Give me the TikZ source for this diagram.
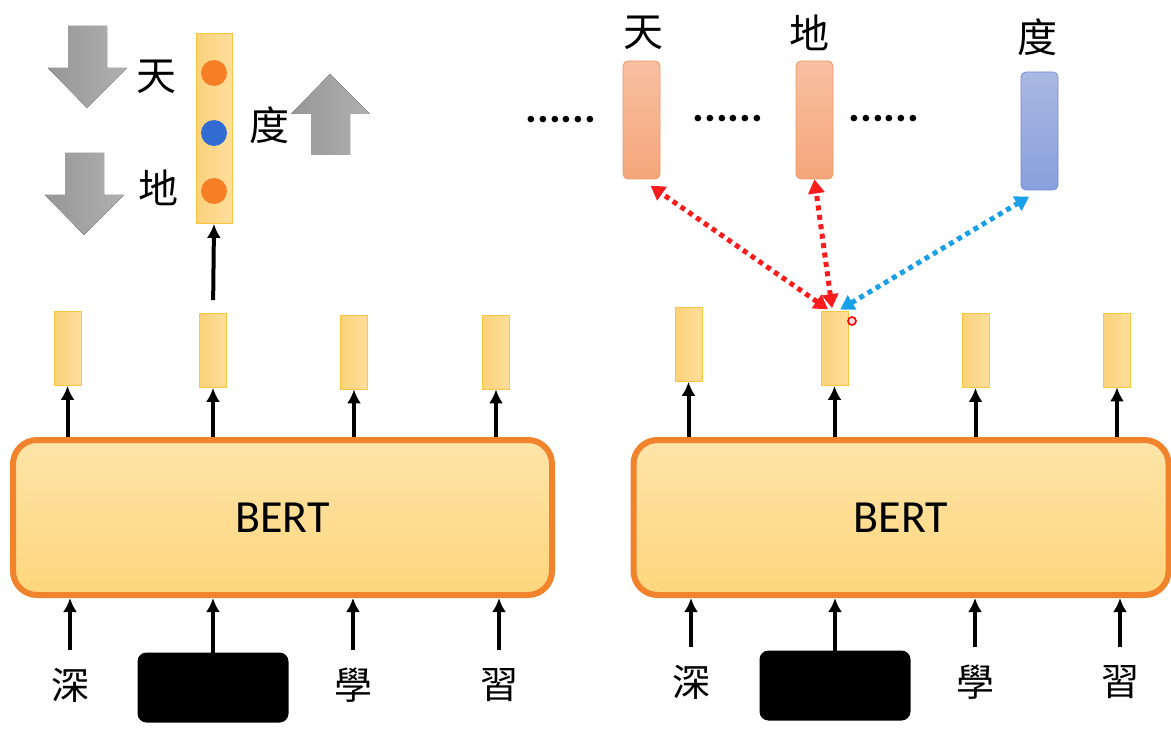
\documentclass[tikz,border=0pt]{standalone}
\usepackage{fontspec}
\setmainfont{Carlito}
\newfontfamily\cjk{Noto Sans CJK TC}
\usetikzlibrary{arrows.meta}

\definecolor{bertline}{RGB}{242,131,45}
\definecolor{bertfill}{RGB}{255,214,125}
\definecolor{bertlight}{RGB}{253,228,168}
\definecolor{vecfill}{RGB}{252,210,122}
\definecolor{veclight}{RGB}{254,222,156}
\definecolor{vecline}{RGB}{248,198,64}
\definecolor{salmontop}{RGB}{249,192,162}
\definecolor{salmonbot}{RGB}{245,166,122}
\definecolor{salmonline}{RGB}{238,150,100}
\definecolor{bluetop}{RGB}{170,184,226}
\definecolor{bluebot}{RGB}{136,160,220}
\definecolor{blueline}{RGB}{110,140,214}
\definecolor{dotred}{RGB}{250,28,28}
\definecolor{dotblue}{RGB}{26,160,230}
\definecolor{ballorange}{RGB}{246,126,36}
\definecolor{ballblue}{RGB}{50,108,210}

\tikzset{
	bert/.style={draw=bertline, line width=6pt, rounded corners=24pt,
		top color=bertlight, bottom color=bertfill, minimum height=155pt,
		font=\fontsize{46}{50}\selectfont},
	vec/.style={draw=vecline, line width=0.8pt, left color=vecfill, right color=veclight,
		minimum width=27pt, minimum height=74pt, inner sep=0pt},
	wordvec/.style={line width=0.8pt, rounded corners=5pt, minimum width=37pt,
		minimum height=118pt, inner sep=0pt},
	word/.style={font=\cjk\fontsize{38}{40}\selectfont, minimum height=72pt, inner sep=0pt},
	toplabel/.style={font=\cjk\fontsize{40}{42}\selectfont, inner sep=0pt},
	maskbox/.style={fill=black, rounded corners=9pt, minimum width=151pt, minimum height=70pt},
	uparrow/.style={-{Latex[length=14pt,width=14pt]}, line width=4pt},
	link/.style={{Triangle[length=14pt,width=16pt]}-{Triangle[length=14pt,width=16pt]},
		line width=5pt, dash pattern=on 5pt off 4.5pt},
	ball/.style={circle, minimum size=26pt, inner sep=0pt},
	bigarrow/.style={left color=gray!82, right color=gray!62},
	more/.style={font=\bfseries\fontsize{44}{46}\selectfont, inner sep=0pt}
}

\begin{document}
\begin{tikzpicture}[x=1pt, y=-1pt]
	\useasboundingbox (0,0) rectangle (1171,733);
	\clip (0,0) rectangle (1171,733);

	% left: BERT
	\node[bert, minimum width=539pt] (bertL) at (282.5,517.5) {BERT};
	\node[vec] (v1) at (67.5,348.5) {};
	\node[vec] (v2) at (213,350.5) {};
	\node[vec] (v3) at (354,352) {};
	\node[vec] (v4) at (496,352) {};
	\foreach \v in {v1,v2,v3,v4}
		\draw[uparrow] (bertL.north -| \v) -- (\v.south);

	\node[word] (a1) at (70,685) {深};
	\node[maskbox] (a2) at (213,687.5) {};
	\node[word] (a3) at (353,685) {學};
	\node[word] (a4) at (499,685) {習};
	\foreach \a in {a1,a2,a3,a4}
		\draw[uparrow] ([yshift=-1pt]\a.north) -- (\a.north |- bertL.south);

	% left: output distribution
	\node[draw=vecline, line width=0.8pt, left color=vecfill, right color=veclight,
		minimum width=36pt, minimum height=190pt, inner sep=0pt] (bigv) at (214,128.5) {};
	\node[ball, fill=ballorange] (c1) at (214,73) {};
	\node[ball, fill=ballblue] (c2) at (214,133) {};
	\node[ball, fill=ballorange] (c3) at (214,191) {};
	\draw[uparrow, shorten <=13pt] (v2.north) -- (bigv.south);

	\node[toplabel] (t1) at (156,77) {天};
	\node[toplabel] (t2) at (158,188) {地};
	\node[toplabel] (t3) at (269,125) {度};

	\fill[bigarrow] (68,26) -- (107,26) -- (107,68) -- (127,68) -- (87,108)
		-- (48,68) -- (68,68) -- cycle;
	\fill[bigarrow] (65,153) -- (104,153) -- (104,195) -- (124,195) -- (84,235)
		-- (45,195) -- (65,195) -- cycle;
	\fill[bigarrow] (311,155) -- (350,155) -- (350,114) -- (370,114) -- (330,74)
		-- (291,114) -- (311,114) -- cycle;

	% right: BERT
	\node[bert, minimum width=535pt] (bertR) at (901,517.5) {BERT};
	\node[vec] (r1) at (688.5,344.5) {};
	\node[vec] (r2) at (834.5,348.5) {};
	\node[vec] (r3) at (975.5,350.5) {};
	\node[vec] (r4) at (1117,350) {};
	\foreach \v in {r1,r2,r3,r4}
		\draw[uparrow] (bertR.north -| \v) -- (\v.south);

	\node[word] (b1) at (691,682) {深};
	\node[maskbox] (b2) at (835,685.5) {};
	\node[word] (b3) at (975,682) {學};
	\node[word] (b4) at (1120,682) {習};
	\foreach \b in {b1,b2,b3,b4}
		\draw[uparrow] ([yshift=-1pt]\b.north) -- (\b.north |- bertR.south);

	% right: word vectors
	\node[toplabel] (wt) at (643,33) {天};
	\node[toplabel] (wd) at (809,33) {地};
	\node[toplabel] (wu) at (1037,37) {度};
	\node[wordvec, draw=salmonline, top color=salmontop, bottom color=salmonbot] (et) at (641.5,120) {};
	\node[wordvec, draw=salmonline, top color=salmontop, bottom color=salmonbot] (ed) at (814.5,120) {};
	\node[wordvec, draw=blueline, top color=bluetop, bottom color=bluebot] (eu) at (1039.5,131) {};
	\node[more] (m1) at (561,120) {......};
	\node[more] (m2) at (728,119) {......};
	\node[more] (m3) at (884,119) {......};

	\draw[link, dotred, shorten <=3pt, shorten >=11pt] ([xshift=-4pt]r2.north) -- (et.south);
	\draw[link, dotred, shorten <=3pt] ([xshift=-2pt]r2.north) -- (ed.south);
	\draw[link, dotblue, shorten <=3pt, shorten >=12pt] ([xshift=3pt]r2.north) -- (eu.south);

	\node[circle, fill=red!12, draw=red, line width=1.6pt, minimum size=8pt, inner sep=0pt] (ptr) at (852,321) {};
\end{tikzpicture}
\end{document}
